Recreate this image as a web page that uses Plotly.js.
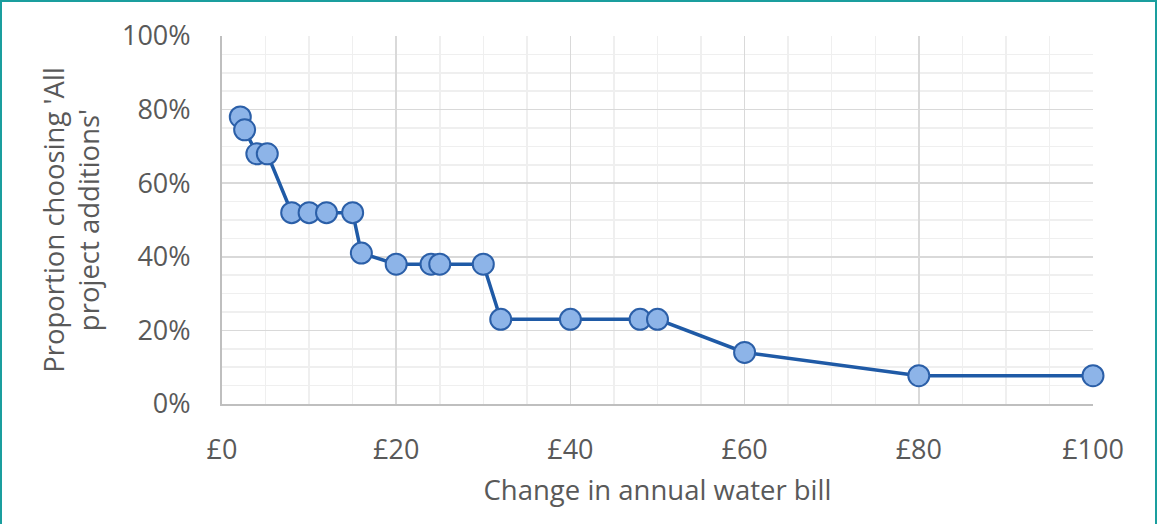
<!DOCTYPE html>
<html><head><meta charset="utf-8">
<script src="https://cdn.plot.ly/plotly-3.0.1.min.js"></script>
<style>
html,body{margin:0;padding:0;background:#fff;overflow:hidden;}
#chart{width:1157px;height:524px;}
#frame{position:absolute;left:0px;top:0px;width:1153px;height:530px;border:2px solid #1a9e9e;pointer-events:none;}
</style></head>
<body>
<div id="chart"></div>
<div id="frame"></div>
<script>
const billChange = [2.1, 2.6, 4, 5.2, 8, 10, 12, 15, 16, 20, 24, 25, 30, 32, 40, 48, 50, 60, 80, 100];
const proportionAll = [0.78, 0.745, 0.68, 0.68, 0.52, 0.52, 0.52, 0.52, 0.41, 0.38, 0.38, 0.38, 0.38, 0.23, 0.23, 0.23, 0.23, 0.14, 0.077, 0.077];
const xTickVals = [0, 20, 40, 60, 80, 100];
const xTickText = ['£0', '£20', '£40', '£60', '£80', '£100'];
const yTickVals = [0, 0.2, 0.4, 0.6, 0.8, 1.0];
const yTickText = ['0%', '20%', '40%', '60%', '80%', '100%'];

const font = '"Open Sans", "Liberation Sans", sans-serif';
const trace = {
  x: billChange, y: proportionAll, type: 'scatter', mode: 'lines+markers',
  line: {color: '#1f5aa6', width: 3.5},
  marker: {size: 21, color: '#8db4e8', line: {color: '#2b5fa8', width: 2}},
  hoverinfo: 'x+y', cliponaxis: false
};
const layout = {
  width: 1157, height: 524,
  margin: {l: 222, r: 64, t: 36, b: 120},
  paper_bgcolor: '#fff', plot_bgcolor: '#fff',
  showlegend: false,
  font: {family: font, color: '#595959'},
  xaxis: {
    range: [0, 100], tickvals: xTickVals, ticktext: xTickText,
    showgrid: true, gridcolor: '#d9d9d9', gridwidth: 1.5,
    minor: {dtick: 5, showgrid: true, gridcolor: '#efefef', gridwidth: 1.5},
    showline: true, linecolor: '#bfbfbf', linewidth: 2,
    zeroline: false, ticks: '', ticklabelstandoff: 21,
    tickfont: {size: 27, color: '#595959', family: font},
    title: {text: 'Change in annual water bill', font: {size: 27.5, color: '#595959', family: font}, standoff: 14}
  },
  yaxis: {
    range: [0, 1], tickvals: yTickVals, ticktext: yTickText,
    showgrid: true, gridcolor: '#d9d9d9', gridwidth: 1.5,
    minor: {dtick: 0.05, showgrid: true, gridcolor: '#efefef', gridwidth: 1.5},
    showline: true, linecolor: '#bfbfbf', linewidth: 2,
    zeroline: false, ticks: '', ticklabelstandoff: 24,
    tickfont: {size: 27, color: '#595959', family: font},
    title: {text: "Proportion choosing 'All<br>project additions'", font: {size: 27.5, color: '#595959', family: font}, standoff: 14}
  }
};
Plotly.newPlot('chart', [trace], layout, {displayModeBar: false, staticPlot: true});
</script>
</body></html>
